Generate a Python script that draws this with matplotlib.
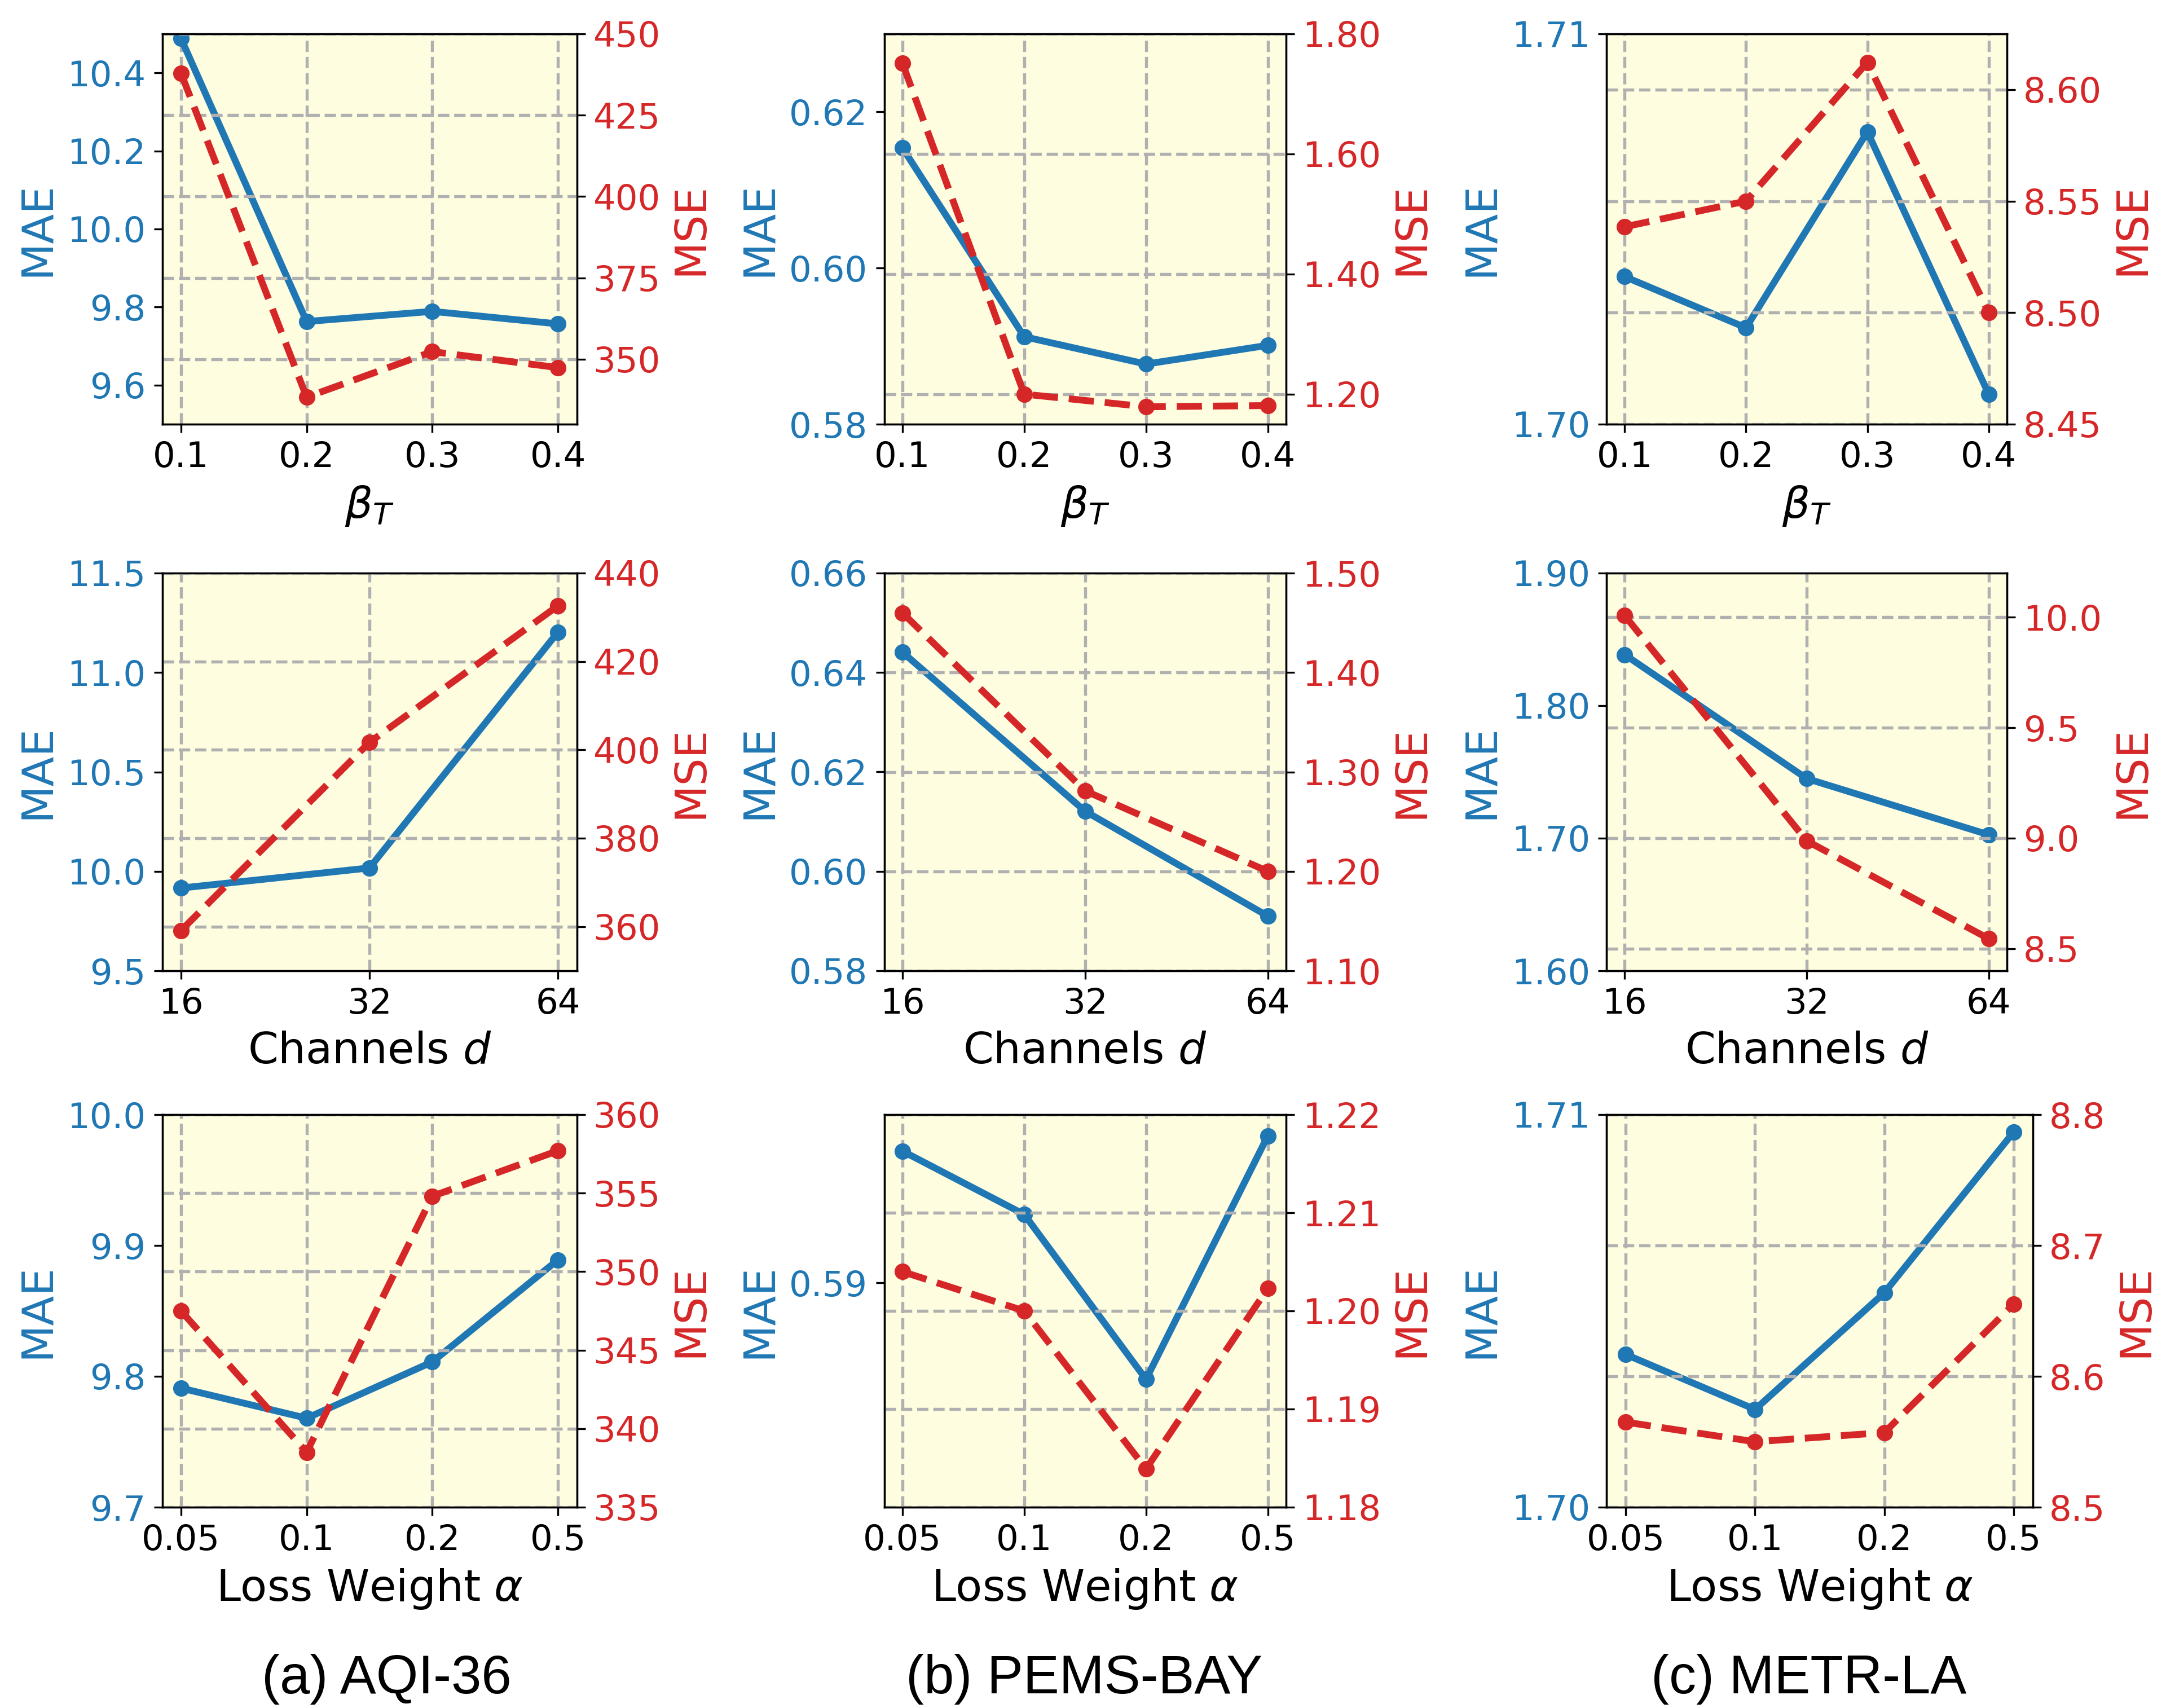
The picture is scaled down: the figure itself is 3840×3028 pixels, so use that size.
import numpy as np
import matplotlib
matplotlib.use("Agg")
import matplotlib.pyplot as plt
from matplotlib.ticker import FormatStrFormatter

# x settings for each row
beta_vals = [0.1, 0.2, 0.3, 0.4]
channel_labels = ["16", "32", "64"]
alpha_labels = ["0.05", "0.1", "0.2", "0.5"]

# row 1: beta_T
aqi_beta_mae = [10.488, 9.763, 9.789, 9.757]
aqi_beta_mse = [437.9, 338.3, 352.3, 347.4]
pems_beta_mae = [0.6154, 0.5912, 0.5877, 0.5901]
pems_beta_mse = [1.751, 1.200, 1.179, 1.181]
metr_beta_mae = [1.70378, 1.70247, 1.70749, 1.70077]
metr_beta_mse = [8.5385, 8.550, 8.6122, 8.500]

# row 2: channels d
aqi_ch_mae = [9.916, 10.017, 11.203]
aqi_ch_mse = [359.1, 401.7, 432.6]
pems_ch_mae = [0.6441, 0.6121, 0.5910]
pems_ch_mse = [1.460, 1.281, 1.200]
metr_ch_mae = [1.8385, 1.745, 1.7026]
metr_ch_mse = [10.008, 8.988, 8.545]

# row 3: loss weight alpha
aqi_al_mae = [9.791, 9.768, 9.811, 9.889]
aqi_al_mse = [347.5, 338.5, 354.8, 357.7]
pems_al_mae = [0.59235, 0.59122, 0.58828, 0.59262]
pems_al_mse = [1.2040, 1.2000, 1.1839, 1.2023]
metr_al_mae = [1.70389, 1.70249, 1.70546, 1.70955]
metr_al_mse = [8.565, 8.550, 8.557, 8.655]

captions = ["(a) AQI-36", "(b) PEMS-BAY", "(c) METR-LA"]

BLUE = "#1f77b4"
RED = "#d62728"
BG = "#fefde0"
GRID = "#b0b0b0"

fig = plt.figure(figsize=(12.8, 3028 / 300), dpi=300)


def panel(rect, x, xlabels, xlabel, mae, mse, mae_lim, mse_lim,
          mae_ticks, mse_ticks, mae_fmt, mse_fmt):
    ax = fig.add_axes(rect)
    ax.set_facecolor(BG)
    ax.plot(x, mae, color=BLUE, lw=2.9, marker="o", ms=6)
    ax.set_ylim(*mae_lim)
    ax.set_yticks(mae_ticks)
    ax.yaxis.set_major_formatter(FormatStrFormatter(mae_fmt))
    ax.set_xticks(x)
    if xlabels is not None:
        ax.set_xticklabels(xlabels)
    ax.set_xlabel(xlabel, fontsize=18.5, labelpad=4)
    ax.set_ylabel("MAE", color=BLUE, fontsize=18.5)
    ax.tick_params(axis="y", labelcolor=BLUE, labelsize=15)
    ax.tick_params(axis="x", labelsize=15)
    ax.grid(True, axis="x", ls="--", color=GRID, lw=1.3)

    ax2 = ax.twinx()
    ax2.plot(x, mse, color=RED, lw=2.9, ls="--", marker="o", ms=6)
    ax2.set_ylim(*mse_lim)
    ax2.set_yticks(mse_ticks)
    ax2.yaxis.set_major_formatter(FormatStrFormatter(mse_fmt))
    ax2.set_ylabel("MSE", color=RED, fontsize=18.5)
    ax2.tick_params(axis="y", labelcolor=RED, labelsize=15)
    ax2.grid(True, axis="y", ls="--", color=GRID, lw=1.3)
    return ax, ax2


W, H = 3840, 3028


def rect(l, r, t, b):
    return [l / W, 1 - b / H, (r - l) / W, (b - t) / H]


cols = [(287.5, 1022.5), (1567.5, 2280), (2848, 3558)]
rows = [(60, 752), (1016, 1721), (1976, 2672)]

bx = beta_vals
cx = list(range(len(channel_labels)))
axx = list(range(len(alpha_labels)))
bl = r"$\beta_T$"
cl = r"Channels $d$"
al = r"Loss Weight $\alpha$"

# row 1
panel(rect(*cols[0], *rows[0]), bx, None, bl, aqi_beta_mae, aqi_beta_mse,
      (9.5, 10.5), (330, 450), [9.6, 9.8, 10.0, 10.2, 10.4],
      [350, 375, 400, 425, 450], "%.1f", "%d")
panel(rect(*cols[1], *rows[0]), bx, None, bl, pems_beta_mae, pems_beta_mse,
      (0.58, 0.63), (1.15, 1.80), [0.58, 0.60, 0.62],
      [1.20, 1.40, 1.60, 1.80], "%.2f", "%.2f")
panel(rect(*cols[2], *rows[0]), bx, None, bl, metr_beta_mae, metr_beta_mse,
      (1.70, 1.71), (8.45, 8.625), [1.70, 1.71],
      [8.45, 8.50, 8.55, 8.60], "%.2f", "%.2f")

# row 2
panel(rect(*cols[0], *rows[1]), cx, channel_labels, cl, aqi_ch_mae, aqi_ch_mse,
      (9.5, 11.5), (350, 440), [9.5, 10.0, 10.5, 11.0, 11.5],
      [360, 380, 400, 420, 440], "%.1f", "%d")
panel(rect(*cols[1], *rows[1]), cx, channel_labels, cl, pems_ch_mae, pems_ch_mse,
      (0.58, 0.66), (1.10, 1.50), [0.58, 0.60, 0.62, 0.64, 0.66],
      [1.10, 1.20, 1.30, 1.40, 1.50], "%.2f", "%.2f")
panel(rect(*cols[2], *rows[1]), cx, channel_labels, cl, metr_ch_mae, metr_ch_mse,
      (1.60, 1.90), (8.4, 10.2), [1.60, 1.70, 1.80, 1.90],
      [8.5, 9.0, 9.5, 10.0], "%.2f", "%.1f")

# row 3
panel(rect(*cols[0], *rows[2]), axx, alpha_labels, al, aqi_al_mae, aqi_al_mse,
      (9.7, 10.0), (335, 360), [9.7, 9.8, 9.9, 10.0],
      [335, 340, 345, 350, 355, 360], "%.1f", "%d")
panel(rect(*cols[1], *rows[2]), axx, alpha_labels, al, pems_al_mae, pems_al_mse,
      (0.586, 0.593), (1.18, 1.22), [0.59],
      [1.18, 1.19, 1.20, 1.21, 1.22], "%.2f", "%.2f")
panel(rect(2848, 3604, *rows[2]), axx, alpha_labels, al, metr_al_mae, metr_al_mse,
      (1.70, 1.71), (8.5, 8.8), [1.70, 1.71],
      [8.5, 8.6, 8.7, 8.8], "%.2f", "%.1f")

cap_x = [685, 1922, 3207]
for cx_, txt in zip(cap_x, captions):
    fig.text(cx_ / W, 1 - 2977 / H, txt, ha="center", va="center",
             fontsize=23, family="Liberation Sans")

fig.savefig("out.png", dpi=300)
